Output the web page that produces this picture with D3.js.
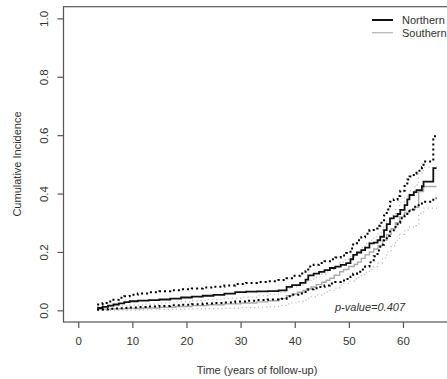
<!DOCTYPE html>
<html>
<head>
<meta charset="utf-8">
<script src="https://cdn.jsdelivr.net/npm/d3@7"></script>
<style>
    body { margin: 0; background: #fff; }
    text { font-family: "Liberation Sans", Arial, sans-serif; fill: #333; }
</style>
</head>
<body>
<div id="chart"></div>
<script>
// Northern group (black)
const northTime  = [3.5, 4.5, 5.5, 6.5, 7.5, 8.5, 9.5, 11, 13, 15, 17, 19, 21, 23, 25, 27, 29, 31, 33, 35, 37, 38.5, 39.5, 41, 42, 42.5, 43.5, 44.5, 45.5, 46.5, 47.5, 48.5, 49.5, 50.3, 50.8, 51.5, 52.3, 53, 53.8, 54.6, 55.3, 55.8, 56.5, 57, 57.6, 58.3, 59, 59.5, 60.3, 60.8, 61.2, 62, 62.5, 63.5, 63.8, 65.6, 66.2];
const northEst   = [0.008, 0.012, 0.016, 0.02, 0.024, 0.028, 0.031, 0.033, 0.035, 0.037, 0.04, 0.044, 0.047, 0.05, 0.053, 0.057, 0.062, 0.064, 0.065, 0.066, 0.068, 0.08, 0.086, 0.094, 0.105, 0.12, 0.126, 0.132, 0.138, 0.145, 0.15, 0.156, 0.162, 0.175, 0.19, 0.198, 0.206, 0.215, 0.229, 0.232, 0.24, 0.252, 0.275, 0.295, 0.315, 0.322, 0.33, 0.344, 0.36, 0.38, 0.395, 0.405, 0.412, 0.425, 0.441, 0.487, 0.487];
const northUpper = [0.02, 0.025, 0.03, 0.036, 0.043, 0.048, 0.053, 0.058, 0.062, 0.065, 0.069, 0.072, 0.075, 0.078, 0.081, 0.085, 0.09, 0.094, 0.097, 0.1, 0.104, 0.11, 0.118, 0.126, 0.135, 0.15, 0.156, 0.162, 0.168, 0.175, 0.181, 0.188, 0.196, 0.212, 0.23, 0.24, 0.25, 0.262, 0.275, 0.28, 0.29, 0.3, 0.325, 0.345, 0.372, 0.38, 0.392, 0.41, 0.43, 0.448, 0.458, 0.468, 0.478, 0.49, 0.51, 0.596, 0.596];
const northLower = [0.002, 0.003, 0.005, 0.006, 0.007, 0.008, 0.01, 0.011, 0.013, 0.015, 0.017, 0.019, 0.021, 0.023, 0.025, 0.027, 0.03, 0.033, 0.035, 0.037, 0.04, 0.048, 0.053, 0.058, 0.066, 0.072, 0.076, 0.08, 0.085, 0.092, 0.097, 0.102, 0.107, 0.115, 0.125, 0.132, 0.14, 0.15, 0.165, 0.185, 0.205, 0.225, 0.24, 0.255, 0.27, 0.285, 0.3, 0.315, 0.325, 0.335, 0.345, 0.355, 0.36, 0.366, 0.372, 0.384, 0.384];

// Southern group (grey)
const southTime  = [3.5, 6, 9, 12, 15, 18, 21, 24, 27, 30, 33, 35, 37, 38.5, 39.5, 40.5, 41.5, 42.2, 43, 44, 45, 45.8, 46.5, 47.3, 48.3, 49, 50, 51, 51.6, 52.3, 53, 53.8, 54.6, 55.4, 56.2, 57, 57.8, 58.6, 59.4, 60.3, 61.2, 62.2, 62.9, 63.8, 66.2];
const southEst   = [0.004, 0.005, 0.006, 0.008, 0.01, 0.013, 0.016, 0.019, 0.022, 0.025, 0.029, 0.033, 0.04, 0.05, 0.056, 0.062, 0.068, 0.074, 0.08, 0.088, 0.096, 0.103, 0.11, 0.12, 0.132, 0.14, 0.15, 0.157, 0.165, 0.178, 0.19, 0.2, 0.21, 0.222, 0.24, 0.26, 0.28, 0.3, 0.32, 0.335, 0.345, 0.353, 0.407, 0.424, 0.424];
const southUpper = [0.013, 0.015, 0.018, 0.021, 0.025, 0.029, 0.033, 0.037, 0.041, 0.045, 0.05, 0.055, 0.062, 0.074, 0.08, 0.087, 0.094, 0.1, 0.107, 0.115, 0.124, 0.132, 0.14, 0.15, 0.162, 0.172, 0.183, 0.193, 0.2, 0.215, 0.228, 0.24, 0.252, 0.265, 0.285, 0.305, 0.325, 0.345, 0.37, 0.39, 0.41, 0.43, 0.47, 0.49, 0.498];
const southLower = [0, 0, 0.001, 0.002, 0.003, 0.004, 0.005, 0.006, 0.007, 0.009, 0.011, 0.013, 0.017, 0.022, 0.026, 0.03, 0.035, 0.04, 0.046, 0.052, 0.058, 0.063, 0.068, 0.076, 0.086, 0.092, 0.1, 0.107, 0.113, 0.122, 0.13, 0.14, 0.15, 0.162, 0.18, 0.2, 0.22, 0.24, 0.26, 0.275, 0.285, 0.29, 0.332, 0.35, 0.355];

const xTicks = [0, 10, 20, 30, 40, 50, 60];
const yTicks = [0, 0.2, 0.4, 0.6, 0.8, 1.0];
const groups = ["Northern", "Southern"];
const pValue = "p-value=0.407";

var width = 447;
var height = 379;

var x = d3.scaleLinear().domain([-2.72, 70.72]).range([63.5, 461]);
var y = d3.scaleLinear().domain([-0.04, 1.04]).range([322, 6.7]);

var svg = d3.select("#chart")
    .append("svg")
    .attr("width", width)
    .attr("height", height);

// plot box (right edge runs off the picture)
svg.append("rect")
    .attr("x", x.range()[0])
    .attr("y", y.range()[1])
    .attr("width", x.range()[1] - x.range()[0])
    .attr("height", y.range()[0] - y.range()[1])
    .style("fill", "none")
    .style("stroke", "#555")
    .style("stroke-width", 1.2);

// axes
var xAxis = svg.append("g")
    .attr("transform", "translate(0," + y.range()[0] + ")")
    .call(d3.axisBottom(x).tickValues(xTicks).tickSize(6).tickPadding(9).tickFormat(d3.format("d")));
var yAxis = svg.append("g")
    .attr("transform", "translate(" + x.range()[0] + ",0)")
    .call(d3.axisLeft(y).tickValues(yTicks).tickSize(6).tickFormat(d3.format(".1f")));

xAxis.select(".domain").remove();
yAxis.select(".domain").remove();
svg.selectAll(".tick line").style("stroke", "#555").style("stroke-width", 1.2);
svg.selectAll(".tick text")
    .style("font-size", "11.5px")
    .style("font-family", "'Liberation Sans', Arial, sans-serif")
    .style("fill", "#333");

yAxis.selectAll(".tick text")
    .attr("transform", "rotate(-90)")
    .attr("x", 0)
    .attr("y", -20)
    .attr("dy", "0.35em")
    .style("text-anchor", "middle");

// axis titles
svg.append("text")
    .attr("x", 257)
    .attr("y", 374)
    .style("text-anchor", "middle")
    .style("font-size", "11px")
    .text("Time (years of follow-up)");

svg.append("text")
    .attr("transform", "translate(21,164) rotate(-90)")
    .style("text-anchor", "middle")
    .style("font-size", "11px")
    .text("Cumulative Incidence");

function stepLine(times, values) {
    return d3.line()
        .x(function (d) { return x(d[0]); })
        .y(function (d) { return y(d[1]); })
        .curve(d3.curveStepAfter)(times.map(function (t, i) { return [t, values[i]]; }));
}

var series = [
    { t: southTime, v: southLower, color: "#bbb", w: 1.2, dash: "1.2,3" },
    { t: southTime, v: southUpper, color: "#bbb", w: 1.2, dash: "1.2,3" },
    { t: southTime, v: southEst, color: "#aaa", w: 1.4, dash: null },
    { t: northTime, v: northLower, color: "#000", w: 2, dash: "2,3" },
    { t: northTime, v: northUpper, color: "#000", w: 2, dash: "2,3" },
    { t: northTime, v: northEst, color: "#111", w: 1.8, dash: null }
];

svg.selectAll(".curve")
    .data(series)
    .enter().append("path")
    .attr("class", "curve")
    .attr("d", function (d) { return stepLine(d.t, d.v); })
    .style("fill", "none")
    .style("stroke", function (d) { return d.color; })
    .style("stroke-width", function (d) { return d.w; })
    .style("stroke-dasharray", function (d) { return d.dash; });

// p-value
svg.append("text")
    .attr("x", 370)
    .attr("y", 311)
    .style("text-anchor", "middle")
    .style("font-size", "11px")
    .style("font-style", "italic")
    .text(pValue);

// legend
var legend = svg.selectAll(".legend")
    .data(groups)
    .enter().append("g")
    .attr("class", "legend")
    .attr("transform", function (d, i) { return "translate(372," + (20 + i * 12.7) + ")"; });

legend.append("line")
    .attr("x1", 0).attr("x2", 21)
    .style("stroke", function (d, i) { return i === 0 ? "#111" : "#bbb"; })
    .style("stroke-width", function (d, i) { return i === 0 ? 2 : 1.4; });

legend.append("text")
    .attr("x", 30)
    .attr("dy", "0.35em")
    .style("font-size", "11px")
    .text(function (d) { return d; });
</script>
</body>
</html>
